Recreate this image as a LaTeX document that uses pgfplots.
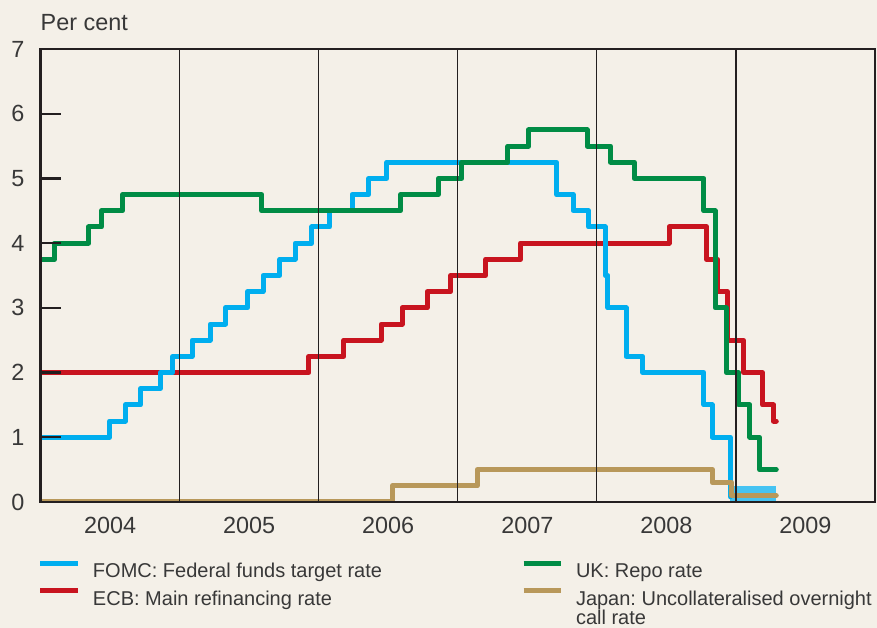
\documentclass[border=0pt]{standalone}
\usepackage{fontspec}
\setmainfont{Liberation Sans}
\usepackage{pgfplots}
\pgfplotsset{compat=1.18}
\frenchspacing
\definecolor{bgc}{HTML}{F4F0E8}
\definecolor{fedc}{HTML}{00AEEF}
\definecolor{bandc}{HTML}{45C3F2}
\definecolor{ecbc}{HTML}{C8141F}
\definecolor{ukc}{HTML}{008C45}
\definecolor{jpc}{HTML}{B8985A}
\definecolor{axc}{HTML}{231F20}
\definecolor{txtc}{HTML}{383838}
\begin{document}
\begin{tikzpicture}[x=1pt,y=1pt]
\useasboundingbox (-40.5,-126) rectangle (836.5,502);
\fill[bgc] (-40.5,-126) rectangle (836.5,502);
\begin{axis}[
  at={(0,0)}, anchor=south west,
  scale only axis, width=834.5pt, height=453pt,
  xmin=2004, xmax=2010, ymin=0, ymax=7,
  axis on top,
  axis line style={line width=2.4pt, color=axc},
  xtick={2004.5,2005.5,2006.5,2007.5,2008.5,2009.5},
  xticklabels={2004,2005,2006,2007,2008,2009},
  x tick style={draw=none},
  ytick={0,1,2,3,4,5,6,7},
  ytick pos=left, tick align=inside,
  y tick style={line width=2.4pt, color=axc},
  major tick length=21pt,
  extra x ticks={2005,2006,2007,2008,2009},
  extra x tick labels={},
  extra x tick style={grid=major, major grid style={line width=1.3pt, color=axc}},
  /pgf/number format/assume math mode=true,
  xticklabel style={font=\fontsize{23.4}{27}\selectfont, text=txtc, anchor=north, inner sep=0pt, yshift=-15pt},
  yticklabel style={font=\fontsize{23.4}{27}\selectfont, text=txtc, anchor=east, inner sep=0pt, xshift=-16pt},
  legend columns=2,
  legend cell align=left,
  legend image code/.code={\path (0pt,0pt) (50pt,0pt);\draw[#1, line width=5pt, line cap=butt] (0pt,7pt) -- (37pt,7pt);},
  legend style={at={(axis description cs:0,0)}, anchor=north west, xshift=-2.5pt, yshift=-58.9pt,
    draw=none, fill=none, inner sep=0pt, outer sep=0pt, row sep=9pt, column sep=0pt,
    nodes={inner sep=0pt, outer sep=0pt}, text=txtc, font=\fontsize{20}{23}\selectfont},
  every axis plot/.append style={line width=5pt, line join=round, line cap=round},
]
% Fed band 0-0.25
\addplot[fill=bandc, draw=none, forget plot] coordinates {(2008.96,0) (2008.96,0.25) (2009.29,0.25) (2009.29,0)} -- cycle;
% ECB
\addplot[const plot, color=ecbc, forget plot] coordinates {
(2004,2.00) (2005.93,2.25) (2006.18,2.50) (2006.45,2.75) (2006.60,3.00) (2006.78,3.25)
(2006.95,3.50) (2007.20,3.75) (2007.45,4.00) (2008.52,4.25) (2008.79,3.75) (2008.87,3.25)
(2008.94,2.50) (2009.055,2.00) (2009.19,1.50) (2009.27,1.25) (2009.29,1.25)};
% Fed
\addplot[const plot, color=fedc, forget plot] coordinates {
(2004.0,1.00) (2004.495,1.25) (2004.61,1.50) (2004.72,1.75) (2004.86,2.00) (2004.95,2.25)
(2005.09,2.50) (2005.22,2.75) (2005.33,3.00) (2005.49,3.25) (2005.60,3.50) (2005.72,3.75)
(2005.83,4.00) (2005.95,4.25) (2006.08,4.50) (2006.24,4.75) (2006.36,5.00) (2006.49,5.25)
(2007.71,4.75) (2007.83,4.50) (2007.94,4.25) (2008.06,3.50) (2008.08,3.00) (2008.21,2.25)
(2008.33,2.00) (2008.77,1.50) (2008.83,1.00) (2008.96,0.08)};
% UK
\addplot[const plot, color=ukc, forget plot] coordinates {
(2004,3.75) (2004.10,4.00) (2004.345,4.25) (2004.44,4.50) (2004.59,4.75) (2005.59,4.50)
(2006.59,4.75) (2006.86,5.00) (2007.03,5.25) (2007.36,5.50) (2007.51,5.75) (2007.93,5.50)
(2008.10,5.25) (2008.27,5.00) (2008.77,4.50) (2008.85,3.00) (2008.93,2.00) (2009.02,1.50)
(2009.10,1.00) (2009.17,0.50) (2009.29,0.50)};
% Japan
\addplot[const plot, color=jpc, forget plot] coordinates {
(2004,0.0) (2006.53,0.25) (2007.14,0.50) (2008.83,0.30) (2008.97,0.10) (2009.29,0.10)};
\addlegendimage{color=fedc}
\addlegendentry{\makebox[428pt][l]{\strut FOMC: Federal funds target rate}}
\addlegendimage{color=ukc}
\addlegendentry{\strut UK: Repo rate}
\addlegendimage{color=ecbc}
\addlegendentry{\makebox[428pt][l]{\strut ECB: Main refinancing rate}}
\addlegendimage{color=jpc}
\addlegendentry{\parbox[t]{330pt}{\fontsize{20}{19}\selectfont\raggedright\rule{0pt}{16.1pt}Japan: Uncollateralised overnight\\call rate}}
\end{axis}
\node[anchor=base west, inner sep=0pt, text=txtc, font=\fontsize{23.4}{27}\selectfont] at (0,471) {Per cent};
\end{tikzpicture}
\end{document}
